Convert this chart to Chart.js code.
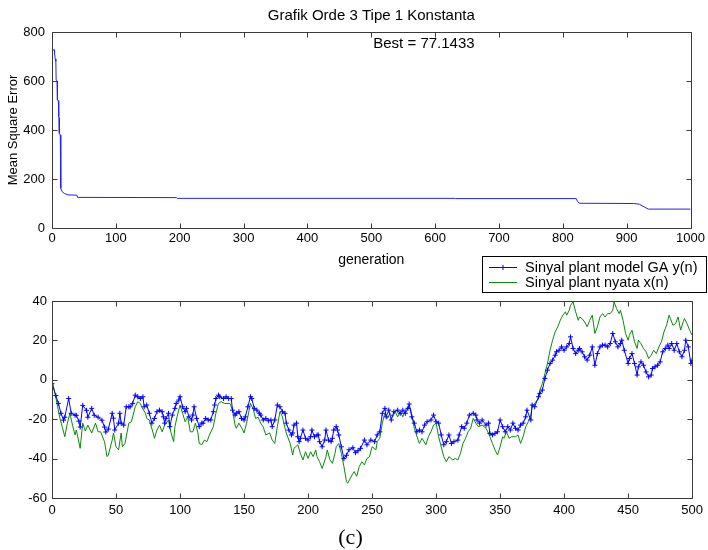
<!DOCTYPE html>
<html>
<head>
<meta charset="utf-8">
<script src="https://cdn.jsdelivr.net/npm/chart.js@4.4.1/dist/chart.umd.min.js"></script>
<style>
  html, body { margin: 0; padding: 0; background: #ffffff; }
  #wrap { position: relative; width: 708px; height: 550px; }
  canvas { position: absolute; left: 0; top: 0; }
</style>
</head>
<body>
<div id="wrap">
  <canvas id="top" width="708" height="550"></canvas>
  <canvas id="bot" width="708" height="550"></canvas>
</div>
<script>
// ---------- text ----------
const topTitle = 'Grafik Orde 3 Tipe 1 Konstanta';
const topXLabel = 'generation';
const topYLabel = 'Mean Square Error';
const bestText = 'Best = 77.1433';
const caption = '(c)';
const seriesNames = ['Sinyal plant model GA y(n)', 'Sinyal plant nyata x(n)'];

// ---------- top plot: MSE per generation ----------
const mseGen = [0, 3.5, 4, 5, 6, 6.5, 8, 8.5, 10, 10.5, 11, 11.5, 13, 13.5, 14, 16, 19.5, 25, 39, 40, 195, 196, 631, 632, 821, 823, 826, 911, 920, 928, 934, 1000];
const mseVal = [727, 727, 712, 690, 680, 604, 600, 522, 520, 454, 450, 386, 380, 300, 162, 148, 141, 135, 134, 125, 124, 121, 121, 120, 120, 108, 101, 100, 97, 85, 77.14, 77.14];
const topXTicks = [0, 100, 200, 300, 400, 500, 600, 700, 800, 900, 1000];
const topYTicks = [0, 200, 400, 600, 800];

// ---------- bottom plot: signals ----------
const blueN = [
  0,3,5,7,9,10,13,15,18,19,
  21,22,24,27,28,31,33,36,39,41,
  42,44,47,48,49,52,53,54,56,58,
  60,61,63,65,67,69,71,72,74,76,
  78,80,82,84,86,87,88,89,91,92,
  94,96,97,99,100,102,104,105,107,109,
  110,111,113,115,117,118,120,122,124,126,
  127,128,130,131,134,136,138,140,141,143,
  144,146,148,150,151,153,155,156,158,160,
  162,163,165,167,169,171,172,174,176,178,
  180,182,183,185,187,188,189,191,192,193,
  194,196,198,200,202,203,205,207,208,209,
  211,213,214,216,218,219,220,222,223,224,
  226,228,230,232,235,237,239,241,244,246,
  249,252,254,256,258,260,261,263,265,267,
  270,272,274,276,278,279,281,283,285,287,
  289,291,293,296,298,300,302,304,306,308,
  310,312,314,317,318,320,322,324,326,329,
  331,332,334,336,339,341,342,344,346,348,
  350,352,354,356,358,360,362,364,366,368,
  370,371,374,375,377,380,381,383,385,387,
  389,391,393,394,396,398,400,402,404,405,
  407,409,411,412,414,416,418,420,422,424,
  426,428,430,432,434,436,438,440,442,444,
  445,447,450,451,453,455,457,458,460,462,
  464,466,468,469,471,473,475,477,479,481,
  482,484,486,488,490,492,494,495,497,499,
  500];
const blueY = [
  -2,-8,-12,-17,-20.5,-19,-9.5,-17,-18,-18,
  -21,-24,-13,-15.5,-19,-14.5,-18,-19,-20.5,-24,
  -26.5,-25,-17,-19.5,-25.5,-22,-17,-22,-23,-13.7,
  -13.7,-13.7,-12,-7.8,-8.6,-9.5,-8.6,-13.7,-12.8,-17,
  -22,-19.6,-16.2,-15.4,-16.2,-18.8,-22,-19.6,-17,-23.8,
  -17.9,-14.5,-12,-10.3,-8.6,-13.7,-16.2,-14.5,-18.8,-20.4,
  -17.9,-13.7,-19.6,-23.8,-22,-22,-19.6,-20.4,-20.4,-16.2,
  -12.8,-9.5,-7.8,-8.6,-9.5,-8.6,-9.5,-9.5,-15.4,-17.9,
  -17,-16.2,-19.6,-20.4,-18.8,-13.7,-8.6,-9.5,-14.5,-15.4,
  -17,-17.9,-20.4,-19.6,-20.8,-20.4,-23.8,-20.4,-12.8,-13.7,
  -16.2,-17,-22,-25.5,-28,-27,-23,-22,-28.9,-31.4,
  -29.7,-25.5,-29.7,-30.6,-28.9,-25.5,-28.9,-28,-28,-31.4,
  -34,-30.6,-25.5,-30.6,-31.4,-29.7,-25.5,-23.8,-25.5,-28,
  -34,-40,-38.3,-35.5,-34.5,-37,-36,-34.8,-30.6,-33,
  -30.6,-31.4,-28,-26.4,-17,-14.5,-18.8,-15.4,-20.4,-16.2,
  -15.4,-17,-15.4,-17,-14.5,-12.3,-18.8,-22,-26.4,-25.5,
  -26.4,-23,-21.3,-20.4,-17.9,-21.3,-22,-28,-33,-31.4,
  -28,-32.3,-31.4,-30.6,-28,-23.8,-24.6,-22,-17.9,-17,
  -17.9,-20.4,-22,-20.4,-23,-22,-27.2,-28,-27.2,-26.4,
  -20.4,-23.8,-26.4,-23.8,-25.5,-22,-24.6,-25.5,-23,-22,
  -18.8,-15.4,-20.4,-12.8,-13.7,-8.6,-6.9,-5.2,0.7,4.9,
  8.3,10,12.5,14.2,15,16.7,15,16.7,18.4,21.8,
  15.9,13.3,15,15.9,14.2,11.7,10,12.5,16.7,7.4,
  13.3,16.7,17.6,17.6,16.7,18.4,23.5,19.3,16.7,18.4,
  20.1,15,8.3,10.8,13.3,8.3,2.4,6.6,9.1,7.4,
  4,1.5,2.4,5.7,6.6,7.4,9.1,14.2,15.9,17.6,
  15.9,18.4,15,18.4,14.2,11.7,15,20.1,16.7,8.3,
  10];
const greenN = [
  0,3,6,10,12,14,16,18,19,22,
  24,26,28,31,34,36,38,41,43,44,
  47,48,50,52,54,55,57,60,62,65,
  67,69,70,73,74,76,79,80,82,84,
  86,88,91,93,95,96,98,100,102,104,
  106,108,110,112,114,115,117,119,121,123,
  126,128,130,132,135,139,141,143,144,146,
  149,150,152,155,157,159,161,163,165,167,
  170,172,174,176,178,180,181,183,186,188,
  189,192,194,196,198,200,202,204,206,207,
  209,211,214,215,217,219,221,222,224,226,
  228,230,231,233,235,236,238,240,242,244,
  246,248,250,253,254,256,258,260,262,264,
  266,268,270,272,274,276,278,280,283,286,
  287,289,292,294,296,298,300,302,304,306,
  308,310,311,313,315,317,319,321,323,325,
  327,329,331,333,336,339,341,342,344,346,
  348,350,352,353,355,357,359,362,364,366,
  368,370,372,374,375,378,380,381,383,385,
  387,389,391,393,395,397,399,401,402,404,
  405,407,409,411,412,414,416,418,420,422,
  424,426,428,430,432,434,436,438,439,441,
  443,444,446,448,450,451,453,455,457,458,
  460,462,464,466,468,470,472,474,476,478,
  480,482,483,485,487,489,491,493,494,496,
  498,500];
const greenY = [
  0,-9,-19,-28.9,-22,-17,-23,-28,-25.5,-34.8,
  -22,-26,-23,-27,-22,-26.4,-26.4,-31.4,-39,-38.2,
  -30.6,-27,-34,-35.6,-27,-34,-32.3,-22,-21.3,-13.7,
  -11.1,-12,-13.7,-17,-19.6,-20.4,-27,-29.7,-25.5,-23,
  -26.4,-23,-20.4,-27,-31.4,-23.8,-17.9,-12.8,-17,-21.3,
  -18.8,-26.4,-26.4,-22,-27,-32.3,-33,-30.6,-31.4,-28,
  -23.8,-17,-12,-11.1,-12,-12,-15.4,-23,-24.6,-22,
  -25.5,-27,-22,-12,-14.5,-19.6,-19,-22,-24,-28,
  -27,-30.6,-32.3,-23.8,-16.2,-18.8,-22,-27,-32.3,-38.2,
  -34.8,-33,-37.4,-40.7,-36.5,-39.9,-36.5,-39,-35.6,-39,
  -41.6,-45,-39,-35.6,-40.5,-42.4,-37.4,-34,-32.3,-37.4,
  -44,-51.7,-52.5,-50,-47.5,-46.6,-49,-44,-41.6,-43.2,
  -39.9,-39,-34,-35.6,-31.4,-29.7,-22,-17,-19.6,-17,
  -18.8,-16.2,-18.8,-16.2,-18.8,-15.4,-13.7,-14.5,-24.6,-30.6,
  -32.3,-29.7,-33,-28.9,-26.4,-23,-22,-28.9,-34,-39,
  -41.6,-39,-39.5,-40.7,-39.9,-40.7,-37.4,-32.3,-29.7,-26.4,
  -24.6,-19.6,-22,-23.8,-23,-24.6,-27.2,-28.9,-32.3,-35.6,
  -38.2,-34,-28.9,-29.7,-26.4,-29.7,-28.9,-28.9,-28,-32.3,
  -28.9,-23.8,-21.3,-17.9,-13.7,-11.1,-9.5,-5.2,-1.9,3.2,
  8.3,15,20.1,24.3,26.9,30.2,32.8,34.5,32.8,35.3,
  37.8,39.5,34.5,30.2,31.9,31.1,29.4,26.9,30.2,32.8,
  23.5,26.9,31.9,33.6,31.9,33.6,33.6,35.3,39.5,36.1,
  33.6,35.3,30.2,23.5,20.1,22.6,25.2,19.3,15.9,20.1,
  18.4,15.9,14.2,10.8,12.5,15,13.3,16.7,19.3,24.3,
  27.7,32.8,31.1,27.7,28.5,31.9,25.2,29.4,31.1,28.5,
  25.2,22.6];
const botXTicks = [0, 50, 100, 150, 200, 250, 300, 350, 400, 450, 500];
const botYTicks = [-60, -40, -20, 0, 20, 40];

// ---------- helpers ----------
const SANS = '"Liberation Sans", Arial, Helvetica, sans-serif';
const AXIS_COLOR = '#3a3a3a';

function pairs(xs, ys) { return xs.map((x, i) => ({ x: x, y: ys[i] })); }
function plainNum(v) { return String(v); }

const framePlugin = {
  id: 'frame',
  afterDatasetsDraw(chart) {
    const ctx = chart.ctx;
    const a = chart.chartArea;
    const xs = chart.scales.x, ys = chart.scales.y;
    const L = Math.round(a.left) + 0.5, R = Math.round(a.right) + 0.5;
    const T = Math.round(a.top) + 0.5, B = Math.round(a.bottom) + 0.5;
    const len = 5;
    ctx.save();
    ctx.strokeStyle = AXIS_COLOR;
    ctx.lineWidth = 1;
    ctx.beginPath();
    ctx.rect(L, T, R - L, B - T);
    xs.ticks.forEach(t => {
      const px = Math.round(xs.getPixelForValue(t.value)) + 0.5;
      ctx.moveTo(px, B); ctx.lineTo(px, B - len);
      ctx.moveTo(px, T); ctx.lineTo(px, T + len);
    });
    ys.ticks.forEach(t => {
      const py = Math.round(ys.getPixelForValue(t.value)) + 0.5;
      ctx.moveTo(L, py); ctx.lineTo(L + len, py);
      ctx.moveTo(R, py); ctx.lineTo(R - len, py);
    });
    ctx.stroke();
    ctx.restore();
  }
};

function fixedTicks(list) {
  return function (scale) {
    scale.ticks = list.map(v => ({ value: v }));
  };
}

// ---------- top chart ----------
const topTextPlugin = {
  id: 'topText',
  afterDraw(chart) {
    const ctx = chart.ctx;
    const a = chart.chartArea;
    ctx.save();
    ctx.fillStyle = '#000';
    ctx.font = '15px ' + SANS;
    ctx.textBaseline = 'middle';
    ctx.textAlign = 'center';
    ctx.fillText(topTitle, (a.left + a.right) / 2, 15.5);
    ctx.textAlign = 'left';
    ctx.fillText(bestText, chart.scales.x.getPixelForValue(500) + 2, chart.scales.y.getPixelForValue(750));
    ctx.restore();
  }
};

new Chart(document.getElementById('top'), {
  type: 'line',
  data: {
    datasets: [{
      label: 'MSE',
      data: pairs(mseGen, mseVal),
      borderColor: '#2020ff',
      borderWidth: 1,
      pointRadius: 0,
      tension: 0,
      fill: false
    }]
  },
  options: {
    responsive: false,
    animation: false,
    layout: { padding: { left: 0, right: 15, top: 32, bottom: 275 } },
    plugins: {
      legend: { display: false },
      tooltip: { enabled: false },
      title: { display: false }
    },
    scales: {
      x: {
        type: 'linear', min: 0, max: 1000,
        afterBuildTicks: fixedTicks(topXTicks),
        afterFit(s) { s.height = 47; },
        grid: { display: false, drawTicks: false },
        border: { display: false },
        ticks: { color: '#000', font: { family: SANS, size: 13 }, padding: 3, maxRotation: 0, autoSkip: false, callback: plainNum },
        title: { display: true, text: topXLabel, color: '#000', font: { family: SANS, size: 14 }, padding: { top: 0, bottom: 6.6 } }
      },
      y: {
        type: 'linear', min: 0, max: 800,
        afterBuildTicks: fixedTicks(topYTicks),
        afterFit(s) { s.width = 52; },
        grid: { display: false, drawTicks: false },
        border: { display: false },
        ticks: { color: '#000', font: { family: SANS, size: 13 }, padding: 7, callback: plainNum },
        title: { display: true, text: topYLabel, color: '#000', font: { family: SANS, size: 13 }, padding: { top: 6, bottom: 0 } }
      }
    }
  },
  plugins: [framePlugin, topTextPlugin]
});

// ---------- bottom chart ----------
const legendPlugin = {
  id: 'boxLegend',
  afterDraw(chart) {
    const ctx = chart.ctx;
    const boxL = 482.5, boxT = 256.5, boxW = 224, boxH = 36;
    ctx.save();
    ctx.fillStyle = '#fff';
    ctx.fillRect(boxL, boxT, boxW, boxH);
    ctx.strokeStyle = '#000';
    ctx.lineWidth = 1;
    ctx.strokeRect(boxL, boxT, boxW, boxH);
    ctx.font = '14.5px ' + SANS;
    ctx.textAlign = 'left';
    ctx.textBaseline = 'middle';
    chart.data.datasets.forEach((ds, i) => {
      const y = Math.round(boxT + 10.5 + i * 15) + 0.5;
      ctx.strokeStyle = ds.borderColor;
      ctx.lineWidth = 1;
      ctx.beginPath();
      ctx.moveTo(489, y); ctx.lineTo(517, y);
      if (ds.pointStyle === 'cross') {
        ctx.moveTo(503, y - 2.5); ctx.lineTo(503, y + 2.5);
        ctx.moveTo(500.5, y); ctx.lineTo(505.5, y);
      }
      ctx.stroke();
      ctx.fillStyle = '#000';
      ctx.fillText(ds.label, 525, y);
    });
    // caption
    ctx.font = '22px "Liberation Serif", "Times New Roman", serif';
    ctx.textAlign = 'center';
    ctx.textBaseline = 'middle';
    ctx.fillStyle = '#000';
    ctx.fillText(caption, 350.5, 538);
    ctx.restore();
  }
};

new Chart(document.getElementById('bot'), {
  type: 'line',
  data: {
    datasets: [{
      label: seriesNames[0],
      data: pairs(blueN, blueY),
      borderColor: '#0000ff',
      borderWidth: 1,
      pointStyle: 'cross',
      pointRadius: 2.5,
      pointBorderWidth: 1,
      pointBorderColor: '#0000ff',
      tension: 0,
      fill: false
    }, {
      label: seriesNames[1],
      data: pairs(greenN, greenY),
      borderColor: '#0a8a0a',
      borderWidth: 1,
      pointRadius: 0,
      tension: 0,
      fill: false
    }]
  },
  options: {
    responsive: false,
    animation: false,
    layout: { padding: { left: 0, right: 15, top: 301, bottom: 0 } },
    plugins: { legend: { display: false }, tooltip: { enabled: false } },
    scales: {
      x: {
        type: 'linear', min: 0, max: 500,
        afterBuildTicks: fixedTicks(botXTicks),
        afterFit(s) { s.height = 52; },
        grid: { display: false, drawTicks: false },
        border: { display: false },
        ticks: { color: '#000', font: { family: SANS, size: 13 }, padding: 5, maxRotation: 0, autoSkip: false, callback: plainNum }
      },
      y: {
        type: 'linear', min: -60, max: 40,
        afterBuildTicks: fixedTicks(botYTicks),
        afterFit(s) { s.width = 52; },
        grid: { display: false, drawTicks: false },
        border: { display: false },
        ticks: { color: '#000', font: { family: SANS, size: 13 }, padding: 5, callback: plainNum }
      }
    }
  },
  plugins: [framePlugin, legendPlugin]
});
</script>
</body>
</html>
